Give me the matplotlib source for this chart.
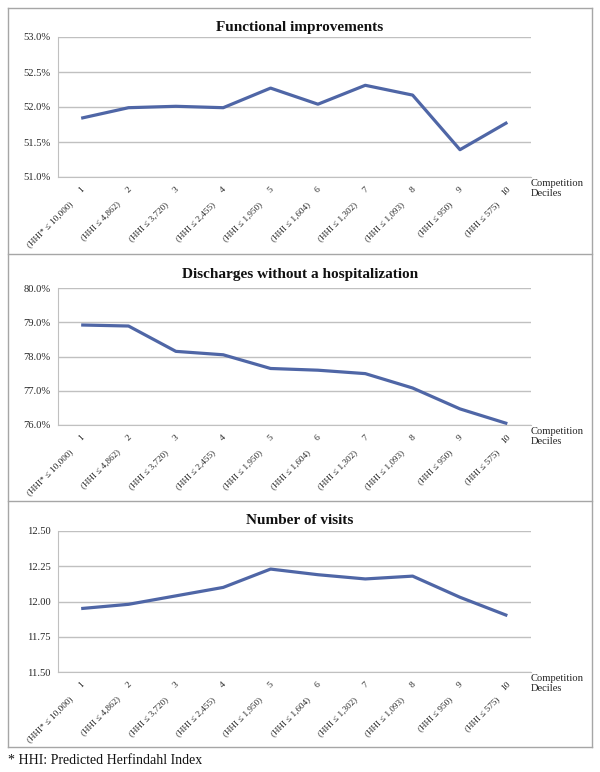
import matplotlib
matplotlib.use("Agg")
import matplotlib.pyplot as plt
import matplotlib.transforms as mtransforms
from matplotlib.ticker import FuncFormatter
import numpy as np

plt.rcParams['font.family'] = ['Liberation Serif', 'DejaVu Serif']

deciles = ["1", "2", "3", "4", "5", "6", "7", "8", "9", "10"]
hhi = ["(HHI* \u2264 10,000)", "(HHI \u2264 4,862)", "(HHI \u2264 3,720)", "(HHI \u2264 2,455)",
       "(HHI \u2264 1,950)", "(HHI \u2264 1,604)", "(HHI \u2264 1,302)", "(HHI \u2264 1,093)",
       "(HHI \u2264 950)", "(HHI \u2264 575)"]

functional = [51.84, 51.99, 52.01, 51.99, 52.27, 52.04, 52.31, 52.17, 51.39, 51.78]
discharges = [78.92, 78.89, 78.15, 78.05, 77.65, 77.60, 77.50, 77.08, 76.47, 76.04]
visits = [11.95, 11.98, 12.04, 12.10, 12.23, 12.19, 12.16, 12.18, 12.03, 11.90]

W, H = 600, 772
fig = plt.figure(figsize=(W / 100, H / 100), dpi=100)

line_color = "#4f66a6"
grid_color = "#c0c0c0"
border_color = "#a6a6a6"
text_color = "#262626"

# outer frame and the separators between the three panels (pixel coords)
def px_line(x0, y0, x1, y1):
    fig.add_artist(plt.Line2D([x0 / W, x1 / W], [1 - y0 / H, 1 - y1 / H],
                              transform=fig.transFigure, color=border_color, linewidth=1.0))

px_line(8, 8, 592, 8)
px_line(8, 747, 592, 747)
px_line(8, 8, 8, 747)
px_line(592, 8, 592, 747)
px_line(8, 254, 592, 254)
px_line(8, 501, 592, 501)

# (title, values, ylim, yticks, label format, axes top px, axes bottom px, title y px)
panels = [
    ("Functional improvements", functional, (51.0, 53.0), [51.0, 51.5, 52.0, 52.5, 53.0],
     lambda v, p: "%.1f%%" % v, 37, 177, 27),
    ("Discharges without a hospitalization", discharges, (76.0, 80.0), [76, 77, 78, 79, 80],
     lambda v, p: "%.1f%%" % v, 288, 425, 275),
    ("Number of visits", visits, (11.5, 12.5), [11.5, 11.75, 12.0, 12.25, 12.5],
     lambda v, p: "%.2f" % v, 531, 672, 520),
]

x = np.arange(1, len(deciles) + 1)
ax_left, ax_right = 57.5, 531

for title, vals, ylim, yticks, fmt, atop, abot, ty in panels:
    ax = fig.add_axes([ax_left / W, 1 - abot / H, (ax_right - ax_left) / W, (abot - atop) / H])
    ax.plot(x, vals, color=line_color, linewidth=2.3, solid_joinstyle="round",
            solid_capstyle="butt")
    ax.set_xlim(0.5, 10.5)
    ax.set_ylim(*ylim)
    ax.set_yticks(yticks)
    ax.yaxis.set_major_formatter(FuncFormatter(fmt))
    ax.grid(axis="y", color=grid_color, linewidth=1.0)
    ax.set_axisbelow(True)
    for s in ["top", "right"]:
        ax.spines[s].set_visible(False)
    for s in ["left", "bottom"]:
        ax.spines[s].set_color(grid_color)
    ax.tick_params(axis="both", length=0, labelsize=7.6, colors=text_color)
    ax.tick_params(axis="y", pad=5)
    ax.set_xticks(x)
    ax.set_xticklabels([])

    base = mtransforms.blended_transform_factory(ax.transData, ax.transAxes)
    num_tr = base + mtransforms.ScaledTranslation(2 / 100, -11 / 100, fig.dpi_scale_trans)
    hhi_tr = base + mtransforms.ScaledTranslation(-9 / 100, -26 / 100, fig.dpi_scale_trans)
    for xi, d, h in zip(x, deciles, hhi):
        ax.text(xi, 0, d, transform=num_tr, rotation=45, rotation_mode="anchor",
                ha="right", va="center", fontsize=6.8, color=text_color)
        ax.text(xi, 0, h, transform=hhi_tr, rotation=45, rotation_mode="anchor",
                ha="right", va="center", fontsize=6.6, color=text_color)

    ax.text(1.0, -0.015, "Competition\nDeciles", transform=ax.transAxes,
            ha="left", va="top", fontsize=7.6, color=text_color, linespacing=1.1)
    fig.text(0.5, 1 - ty / H, title, ha="center", va="center", fontsize=11,
             fontweight="bold", color="#111111")

fig.text(8 / W, 1 - 760 / H, "* HHI: Predicted Herfindahl Index", ha="left",
         va="center", fontsize=10, color="#111111")

fig.savefig("out.png", dpi=100)
